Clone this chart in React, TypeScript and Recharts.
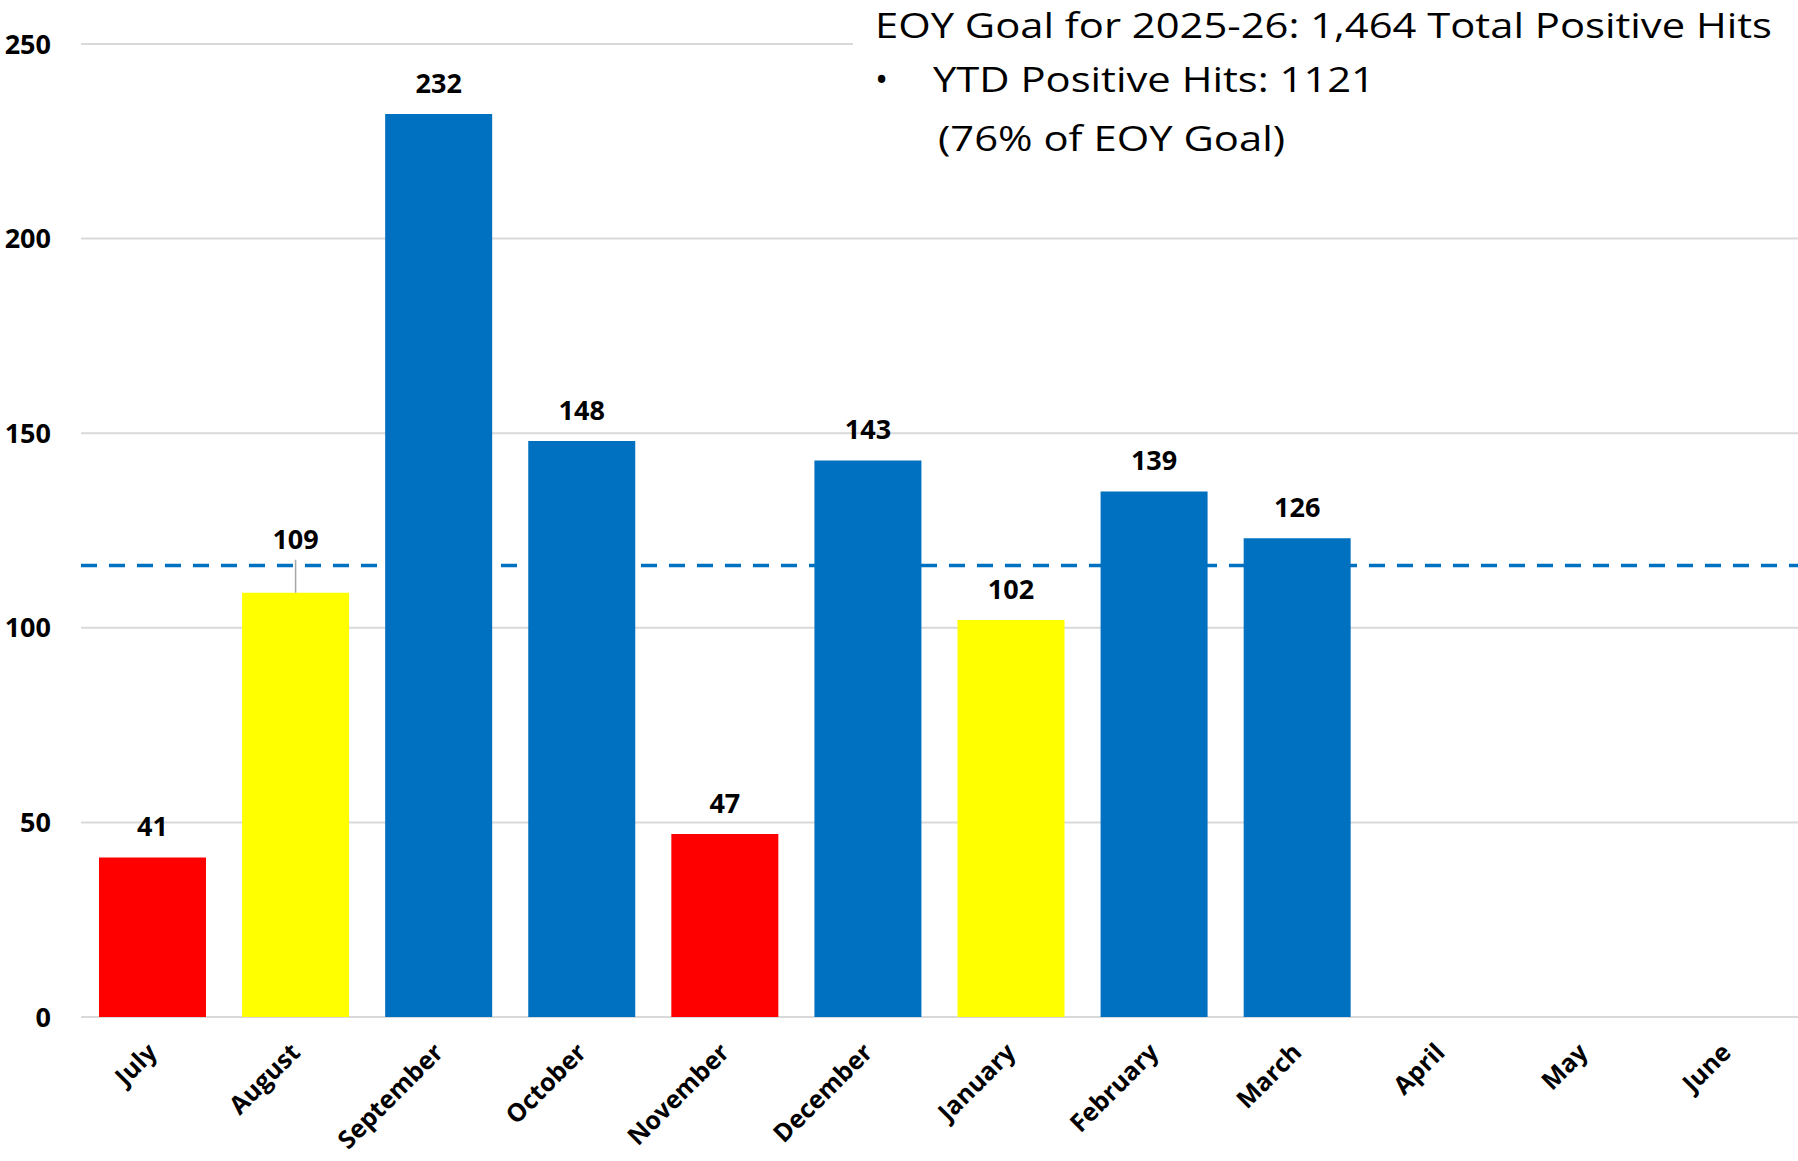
import React from "react";
import { BarChart, Bar, XAxis, YAxis, CartesianGrid, ReferenceLine, LabelList, Cell } from "recharts";

// ─── Data ─────────────────────────────────────────────────────────────────────

const months = [
  "July", "August", "September", "October", "November", "December",
  "January", "February", "March", "April", "May", "June",
];
// bar heights as drawn
const hits = [41, 109, 232, 148, 47, 143, 102, 135, 123, null, null, null];
// printed numbers above the bars
const hitLabels = [41, 109, 232, 148, 47, 143, 102, 139, 126, null, null, null];
const yTicks = [0, 50, 100, 150, 200, 250];
const monthlyGoal = 116;

const goalTitle = "EOY Goal for 2025-26: 1,464 Total Positive Hits";
const ytdLine = "YTD Positive Hits: 1121";
const ytdPct = "(76% of EOY Goal)";

const chartData = months.map((m, i) => ({ month: m, hits: hits[i], label: hitLabels[i] }));

// ─── Helpers ──────────────────────────────────────────────────────────────────

const FONT = "'Open Sans', 'Noto Sans', sans-serif";
const BLUE = "#0070C0";
const YELLOW = "#FFFF00";
const RED = "#FF0000";

function barColor(v: number | null): string {
  if (v == null) return BLUE;
  if (v >= monthlyGoal) return BLUE;
  if (v >= monthlyGoal * 0.8) return YELLOW;
  return RED;
}

// eslint-disable-next-line @typescript-eslint/no-explicit-any
function MonthTick(props: any) {
  const { x, y, payload } = props;
  const ax = x + 6;
  const ay = y + 37;
  return (
    <text
      x={ax}
      y={ay}
      transform={`rotate(-45, ${ax}, ${ay})`}
      textAnchor="end"
      fontSize={25}
      fontWeight={700}
      fontFamily={FONT}
      fill="#000"
    >
      {payload.value}
    </text>
  );
}

// eslint-disable-next-line @typescript-eslint/no-explicit-any
function ValueLabel(props: any) {
  const { x, y, width, height, value, index } = props;
  if (value == null || hits[index] == null) return null;
  const cx = x + width / 2;
  // where the goal line sits, from the bar's own scale
  const pxPerUnit = height / (hits[index] as number);
  const goalY = y + height - monthlyGoal * pxPerUnit;
  let ly = y - 31;
  const clash = Math.abs(ly - goalY) < 14;
  if (clash) ly = y - 53;
  return (
    <g>
      {clash && <line x1={cx} x2={cx} y1={ly + 20} y2={y} stroke="#A6A6A6" strokeWidth={1.5} />}
      <text
        x={cx}
        y={ly}
        dy="0.36em"
        textAnchor="middle"
        fontSize={27}
        fontWeight={700}
        fontFamily={FONT}
        fill="#000"
      >
        {value}
      </text>
    </g>
  );
}

// ─── Component ────────────────────────────────────────────────────────────────

export default function App() {
  return (
    <div style={{ position: "relative", width: 1798, height: 1161, background: "#fff" }}>
      <style>{"body{margin:0;background:#fff}"}</style>
      <BarChart
        width={1798}
        height={1161}
        data={chartData}
        margin={{ top: 44, right: 0, bottom: 0, left: 0 }}
      >
        <CartesianGrid vertical={false} stroke="#D9D9D9" strokeWidth={2} />
        <XAxis
          dataKey="month"
          interval={0}
          height={144}
          axisLine={false}
          tickLine={false}
          tickSize={0}
          tickMargin={0}
          tick={<MonthTick />}
        />
        <YAxis
          domain={[0, 250]}
          ticks={yTicks}
          width={81}
          axisLine={false}
          tickLine={false}
          tickSize={0}
          tickMargin={30}
          tick={{ fill: "#000", fontSize: 27, fontWeight: 700, fontFamily: FONT }}
        />
        <Bar dataKey="hits" barSize={107} isAnimationActive={false}>
          {chartData.map((d, i) => (
            <Cell key={i} fill={barColor(d.label)} />
          ))}
          <LabelList dataKey="label" content={<ValueLabel />} />
        </Bar>
        <ReferenceLine y={monthlyGoal} stroke={BLUE} strokeWidth={3.5} strokeDasharray="16 12" />
      </BarChart>

      {/* Goal summary box, sits over the top gridline */}
      <svg
        width={1798}
        height={172}
        style={{ position: "absolute", left: 0, top: 0, pointerEvents: "none" }}
      >
        <rect x={853} y={0} width={945} height={168} fill="#fff" />
        <text x={875} y={38} fontSize={35} fontFamily={FONT} fill="#000" textLength={897} lengthAdjust="spacingAndGlyphs">
          {goalTitle}
        </text>
        <text x={875} y={92} fontSize={35} fontFamily={FONT} fill="#000">
          •
        </text>
        <text x={933} y={92} fontSize={35} fontFamily={FONT} fill="#000" textLength={442} lengthAdjust="spacingAndGlyphs">
          {ytdLine}
        </text>
        <text x={938} y={151} fontSize={35} fontFamily={FONT} fill="#000" textLength={347} lengthAdjust="spacingAndGlyphs">
          {ytdPct}
        </text>
      </svg>
    </div>
  );
}
